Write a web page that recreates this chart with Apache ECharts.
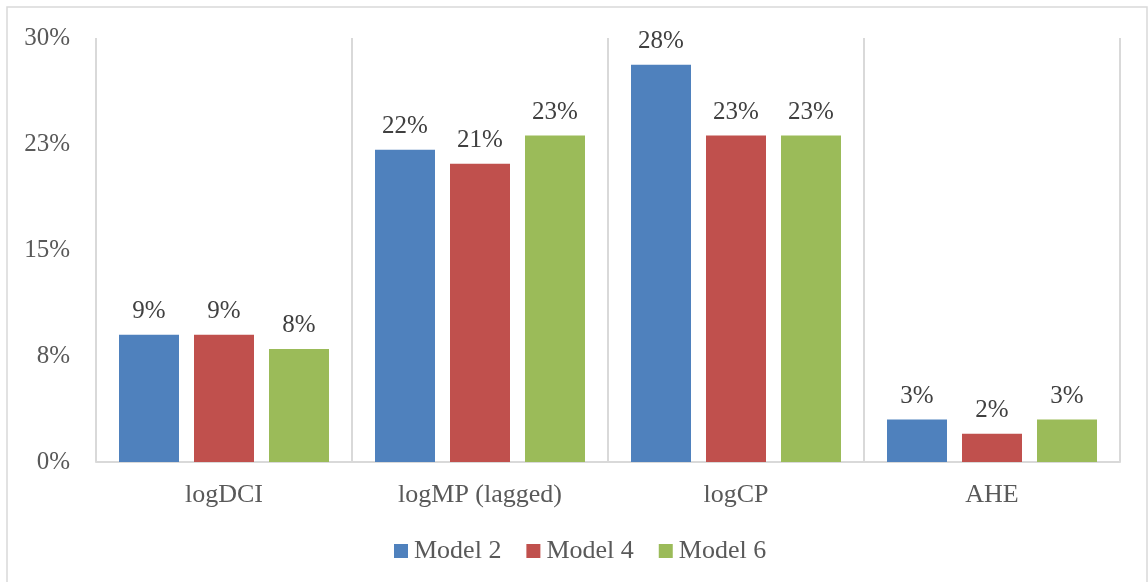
<!DOCTYPE html>
<html>
<head>
<meta charset="utf-8">
<script src="https://cdn.jsdelivr.net/npm/echarts@6/dist/echarts.min.js"></script>
<style>
html,body{margin:0;padding:0;background:#fff;}
#chart{width:1148px;height:582px;}
</style>
</head>
<body>
<div id="chart"></div>
<script>
const categories = ['logDCI', 'logMP (lagged)', 'logCP', 'AHE'];
const seriesNames = ['Model 2', 'Model 4', 'Model 6'];
const model2 = [9.0, 22.1, 28.1, 3.0];
const model4 = [9.0, 21.1, 23.1, 2.0];
const model6 = [8.0, 23.1, 23.1, 3.0];
const yTicks = [0, 7.5, 15, 22.5, 30];
const colors = ['#4F81BD', '#C0504D', '#9BBB59'];

const FONT = "'Liberation Serif', 'Times New Roman', serif";
const TXT = '#595959';
const chart = echarts.init(document.getElementById('chart'));
const values = [model2, model4, model6];
chart.setOption({
  animation: false,
  textStyle: { fontFamily: FONT },
  graphic: [{
    type: 'rect',
    shape: { x: 7, y: 7, width: 1140, height: 600 },
    style: { fill: 'none', stroke: '#D9D9D9', lineWidth: 1.5 },
    silent: true, z: -1
  }],
  grid: { left: 96, right: 28, top: 38, bottom: 120, containLabel: false },
  legend: {
    data: seriesNames,
    left: 389, top: 533,
    itemWidth: 14, itemHeight: 14, itemGap: 25,
    icon: 'rect',
    textStyle: { fontFamily: FONT, fontSize: 26, color: TXT, padding: [0, 0, 0, 1] }
  },
  xAxis: {
    type: 'category',
    data: categories,
    axisTick: { show: false },
    axisLine: { lineStyle: { color: '#D9D9D9', width: 2 } },
    splitLine: { show: true, lineStyle: { color: '#D9D9D9', width: 2 } },
    axisLabel: { fontFamily: FONT, fontSize: 26, color: TXT, margin: 20 }
  },
  yAxis: {
    type: 'value',
    min: 0, max: 30, interval: 7.5,
    axisLine: { show: false },
    axisTick: { show: false },
    splitLine: { show: false },
    axisLabel: {
      fontFamily: FONT, fontSize: 25, color: TXT, margin: 26,
      padding: [6, 0, 0, 0],
      formatter: v => yTicks.includes(v) ? Math.round(v) + '%' : ''
    }
  },
  series: seriesNames.map((n, i) => ({
    name: n,
    type: 'bar',
    data: values[i],
    barWidth: 60,
    barGap: '25%',
    itemStyle: { color: colors[i] },
    label: {
      show: true, position: 'top', distance: 11,
      fontFamily: FONT, fontSize: 25, color: '#404040',
      formatter: p => Math.round(p.value) + '%'
    }
  }))
});
</script>
</body>
</html>
